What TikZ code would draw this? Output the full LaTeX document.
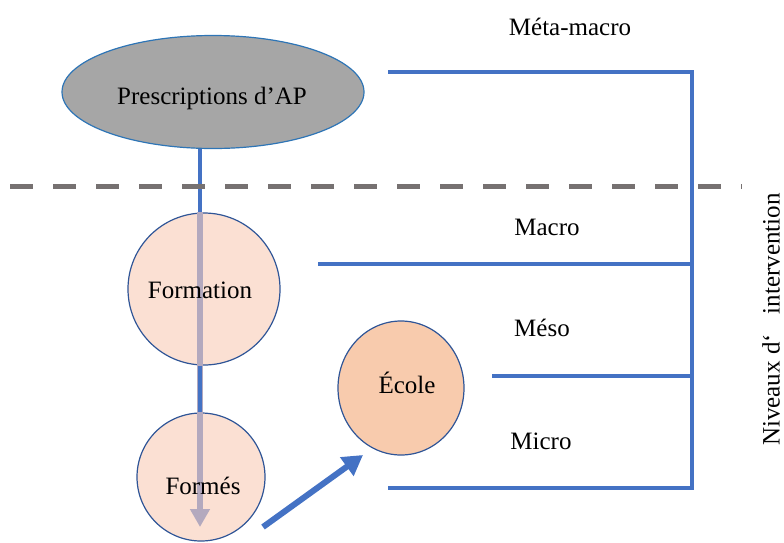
\documentclass[tikz,border=0pt]{standalone}
\usepackage{fontspec}
\setmainfont{Liberation Serif}
\usetikzlibrary{arrows.meta,shapes.geometric}
\definecolor{lineblue}{HTML}{4472C4}
\definecolor{edgeblue}{HTML}{2F5597}
\definecolor{ellblue}{HTML}{2E75B6}
\definecolor{grayfill}{HTML}{A6A6A6}
\definecolor{dashgray}{HTML}{767171}
\definecolor{pinkfill}{HTML}{FBE0D3}
\definecolor{orangefill}{HTML}{F8CBAD}
\definecolor{arrowgray}{HTML}{B3A9BE}
\tikzset{
  lbl/.style={font=\fontsize{25}{30}\selectfont, inner sep=0pt},
  bline/.style={draw=lineblue, line width=4.5pt},
  circ/.style={circle, draw=edgeblue, line width=1.2pt, inner sep=0pt},
}
\begin{document}
\begin{tikzpicture}[x=1pt,y=-1pt]
\useasboundingbox (0,0) rectangle (784,542);
% coordinates
\coordinate (vx) at (200,0);
\coordinate (t1) at (388,72);
\coordinate (t2) at (692,72);
\coordinate (b2) at (692,488);
\coordinate (b1) at (388,488);
\coordinate (ma1) at (318,264);
\coordinate (ma2) at (692,264);
\coordinate (me1) at (492,376);
\coordinate (me2) at (692,376);
\coordinate (d1) at (10,186);
\coordinate (d2) at (742,186);
\coordinate (gend) at (200,527);
\coordinate (as) at (263,527);
\coordinate (ae) at (363,455);
% nodes
\node[ellipse, draw=ellblue, line width=1.2pt, fill=grayfill, minimum width=302pt, minimum height=113pt, inner sep=0pt] (ap) at (213,92) {};
\node[lbl] (aptxt) at (212,98) {Prescriptions d’AP};
\node[circ, fill=pinkfill, minimum size=152pt] (formation) at (204,289) {};
\node[circ, fill=pinkfill, minimum size=128pt] (formes) at (201,477) {};
\draw[bline] (ap.south -| vx) -- (formation.north -| vx);
\draw[arrowgray, line width=6.5pt, -{Triangle[length=18pt,width=19pt]}] (formation.north -| vx) -- (gend);
\draw[bline] (formation.south -| vx) -- (formes.north -| vx);
\node[lbl] (formtxt) at (200,290) {Formation};
\node[lbl] (formestxt) at (203,486) {Formés};
\node[ellipse, draw=edgeblue, line width=1.2pt, fill=orangefill, minimum width=126pt, minimum height=134pt, inner sep=0pt] (ecole) at (401,388) {};
\node[lbl] (ecoletxt) at (407,383) {École};
% dashed line
\draw[dashgray, line width=5pt, dash pattern=on 23pt off 20pt] (d1) -- (d2);
% bracket
\draw[bline, line join=miter] (t1) -- (t2) -- (b2) -- (b1);
\draw[bline] (ma1) -- (ma2);
\draw[bline] (me1) -- (me2);
% arrow
\draw[draw=lineblue, line width=6pt, -{Triangle[length=20pt,width=22pt]}] (as) -- (ae);
% labels
\node[lbl] (meta) at (570,27) {Méta-macro};
\node[lbl] (macro) at (547,227) {Macro};
\node[lbl] (meso) at (542,328) {Méso};
\node[lbl] (micro) at (541,441) {Micro};
\node[lbl, rotate=90, anchor=west] (niv) at (771,446) {Niveaux d‘\hspace{20pt}intervention};
\end{tikzpicture}
\end{document}
